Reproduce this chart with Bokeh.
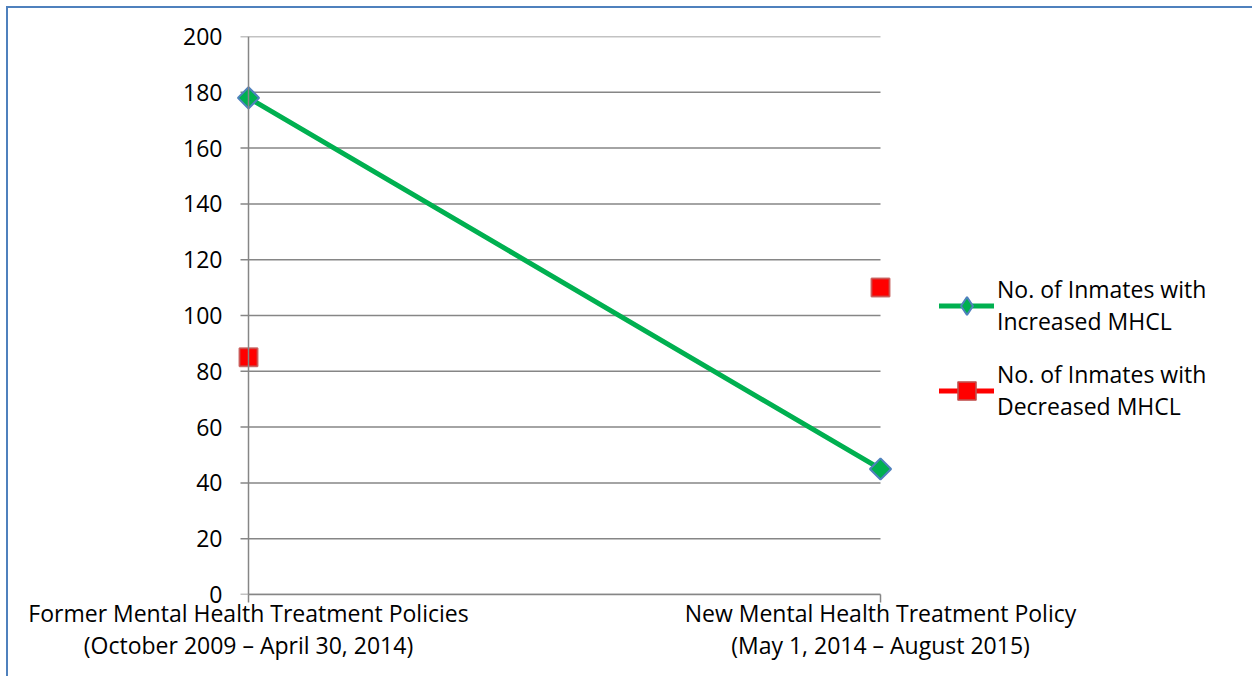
import math
from bokeh.plotting import figure
from bokeh.models import Range1d, FixedTicker, Legend, LegendItem, Span
from bokeh.embed import file_html
from bokeh.resources import INLINE

# ---- data ----
categories = [
    "Former Mental Health Treatment Policies\n(October 2009 \u2013 April 30, 2014)",
    "New Mental Health Treatment Policy\n(May 1, 2014 \u2013 August 2015)",
]
increased = [178, 45]
decreased = [85, 110]
series_names = [
    "No. of Inmates with\nIncreased MHCL",
    "No. of Inmates with\nDecreased MHCL",
]
y_ticks = [0, 20, 40, 60, 80, 100, 120, 140, 160, 180, 200]

# ---- layout ----
FONT = "Open Sans"
FS = "23px"
GRID = "#868686"
GREEN = "#00B050"
RED = "#FF0000"
unit_px = 632
pad_px = 12
tick_px = 8
pad = pad_px / unit_px
xs = list(range(len(categories)))
nan_ys = [float("nan")] * len(xs)

p = figure(
    frame_width=unit_px + 2 * pad_px, frame_height=558,
    x_range=Range1d(xs[0] - pad, xs[-1] + pad),
    y_range=Range1d(y_ticks[0], y_ticks[-1]),
    output_backend="svg", toolbar_location=None,
    min_border_left=228,
    min_border_right=0,
    min_border_top=28, min_border_bottom=82,
)
p.styles = {
    "margin-left": "6px", "margin-top": "6px",
    "border-left": "2px solid #4F81BD", "border-top": "2px solid #4F81BD",
}
p.outline_line_color = None
p.xgrid.visible = False
p.ygrid.visible = False

# horizontal gridlines (with their outward tick marks) between the category positions
p.segment(x0=xs[0] - tick_px / unit_px, x1=xs[-1], y0=y_ticks, y1=y_ticks,
          line_color=GRID, line_width=1.5)
# vertical axis line at the first category
p.add_layout(Span(location=xs[0], dimension="height", line_color=GRID, line_width=1.5))

# y axis (labels only)
ya = p.yaxis[0]
ya.ticker = FixedTicker(ticks=y_ticks)
ya.axis_line_color = None
ya.major_tick_line_color = None
ya.minor_tick_line_color = None
ya.major_tick_out = 0
ya.major_tick_in = 0
ya.major_label_text_font = FONT
ya.major_label_text_font_size = FS
ya.major_label_text_color = "black"
ya.major_label_standoff = 14

# x axis
xa = p.xaxis[0]
xa.bounds = (xs[0], xs[-1])
xa.ticker = FixedTicker(ticks=xs)
xa.major_label_overrides = {i: c for i, c in zip(xs, categories)}
xa.major_tick_out = tick_px
xa.major_tick_in = 0
xa.minor_tick_line_color = None
xa.axis_line_color = GRID
xa.axis_line_width = 1.5
xa.major_tick_line_color = GRID
xa.major_tick_line_width = 1.5
xa.major_label_text_font = FONT
xa.major_label_text_font_size = FS
xa.major_label_text_color = "black"
xa.major_label_text_line_height = 1.0
xa.major_label_standoff = -6

# series
g_line = p.line(xs, increased, line_color=GREEN, line_width=5, line_cap="round")
g_mark = p.scatter(xs, increased, marker="square", angle=math.pi / 4, size=15,
                   fill_color=GREEN, line_color="#4F81BD", line_width=2)
r_mark = p.scatter(xs, decreased, marker="square", size=18,
                   fill_color=RED, line_color="#C0504D", line_alpha=0.8,
                   line_width=2)
# legend-only proxies (no data drawn)
g_leg = p.scatter(xs, nan_ys, marker="diamond", size=24,
                  fill_color=GREEN, line_color="#4F81BD", line_width=2)
r_line = p.line(xs, nan_ys, line_color=RED, line_width=5, line_cap="round")

legend = Legend(
    items=[
        LegendItem(label=series_names[0], renderers=[g_line, g_leg]),
        LegendItem(label=series_names[1], renderers=[r_line, r_mark]),
    ],
    location=(47, 172),
    padding=0, margin=0, spacing=21,
    glyph_width=55, glyph_height=45, label_standoff=3,
    label_text_font=FONT, label_text_font_size=FS,
    label_text_line_height=1.1, label_text_color="black",
    background_fill_alpha=0, border_line_color=None,
)
p.add_layout(legend, "right")

open("out.html", "w").write(file_html(p, INLINE))
